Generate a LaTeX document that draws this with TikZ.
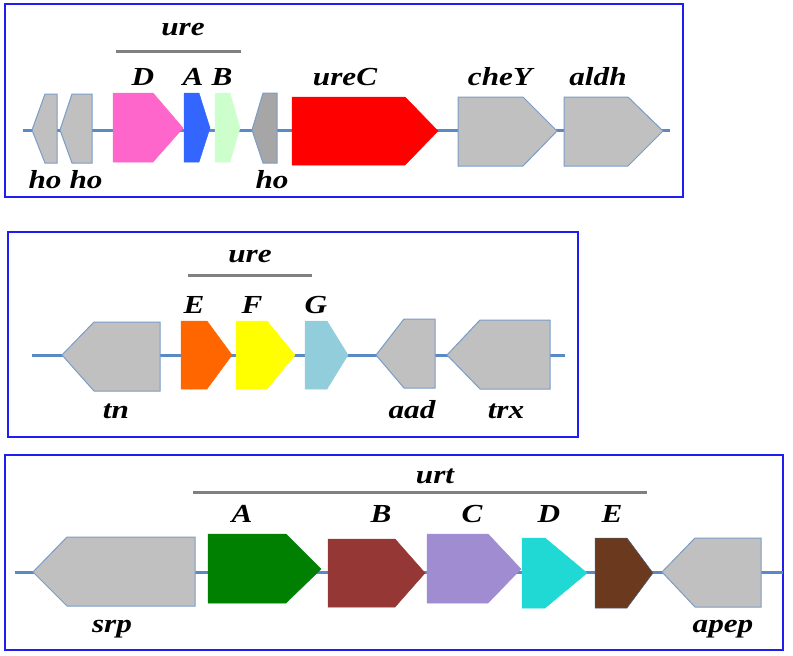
\documentclass[tikz,border=0pt]{standalone}
\usepackage{fontspec}
\setmainfont{Liberation Serif}
\usepackage{tikz}
\usetikzlibrary{positioning}

\definecolor{frameblue}{HTML}{1E1EF0}
\definecolor{dnaline}{HTML}{5A8AC6}
\definecolor{geneedge}{HTML}{7A9CC8}
\definecolor{genegray}{HTML}{C0C0C0}
\definecolor{darkgray}{HTML}{A6A6A6}
\definecolor{urepink}{HTML}{FF66CC}
\definecolor{ureblue}{HTML}{3366FF}
\definecolor{uregreen}{HTML}{CCFFCC}
\definecolor{ureorange}{HTML}{FF6600}
\definecolor{ureyellow}{HTML}{FFFF00}
\definecolor{urecyan}{HTML}{92CDDC}
\definecolor{urtgreen}{HTML}{008000}
\definecolor{urtred}{HTML}{953735}
\definecolor{urtlilac}{HTML}{A08CD0}
\definecolor{urtcyan}{HTML}{20D8D4}
\definecolor{urtbrown}{HTML}{6B3A1E}

\begin{document}
\begin{tikzpicture}[x=1pt, y=-1pt,
    panel/.style={draw=frameblue, line width=2.5pt},
    dna/.style={draw=dnaline, line width=3pt},
    gray gene/.style={fill=genegray, draw=geneedge, line width=1pt},
    gene/.style={fill=#1, draw=#1, line width=0.5pt},
    operon/.style={draw=gray, line width=3pt},
    lbl/.style={font=\fontsize{26}{28}\selectfont\bfseries\itshape, xscale=1.2, anchor=base, inner sep=0pt}]
    \useasboundingbox (0,0) rectangle (793,656);

    % Panels
    \draw[panel] (5,4) rectangle (683,197);
    \draw[panel] (8,232) rectangle (578,437);
    \draw[panel] (5,455) rectangle (783,650);

    % Backbones
    \draw[dna] (23,130) -- (670,130);
    \draw[dna] (32,355) -- (565,355);
    \draw[dna] (15,572) -- (783,572);

    % Panel 1 genes
    \filldraw[gray gene] (32,130) -- (45,94) -- (57,94) -- (57,163) -- (45,163) -- cycle;
    \filldraw[gray gene] (60,130) -- (72,94) -- (92,94) -- (92,163) -- (72,163) -- cycle;
    \filldraw[gene=urepink] (113,93) -- (153,93) -- (183,128) -- (153,162) -- (113,162) -- cycle;
    \filldraw[gene=ureblue] (184,93) -- (199,93) -- (210,128) -- (199,162) -- (184,162) -- cycle;
    \filldraw[gene=uregreen] (215,93) -- (230,93) -- (240,128) -- (230,162) -- (215,162) -- cycle;
    \filldraw[gray gene, fill=darkgray] (252,130) -- (263,93) -- (277,93) -- (277,163) -- (263,163) -- cycle;
    \filldraw[gene=red] (292,97) -- (405,97) -- (438,131) -- (405,165) -- (292,165) -- cycle;
    \filldraw[gray gene] (458,97) -- (523,97) -- (557,131) -- (523,166) -- (458,166) -- cycle;
    \filldraw[gray gene] (564,97) -- (628,97) -- (663,131) -- (628,166) -- (564,166) -- cycle;

    % Panel 1 labels
    \draw[operon] (116,51) -- (241,51);
    \node[lbl] (ure1) at (183,35) {ure};
    \node[lbl] (ureD) at (143,85) {D};
    \node[lbl] (ureA) at (193,85) {A};
    \node[lbl] (ureB) at (222,85) {B};
    \node[lbl] (ureC) at (345,85) {ureC};
    \node[lbl] (cheY) at (500,85) {cheY};
    \node[lbl] (aldh) at (598,85) {aldh};
    \node[lbl] (ho1) at (45,188) {ho};
    \node[lbl] (ho2) at (86,188) {ho};
    \node[lbl] (ho3) at (272,188) {ho};

    % Panel 2 genes
    \filldraw[gray gene] (62,355) -- (94,322) -- (160,322) -- (160,391) -- (94,391) -- cycle;
    \filldraw[gene=ureorange] (181,321) -- (207,321) -- (232,355) -- (207,389) -- (181,389) -- cycle;
    \filldraw[gene=ureyellow] (236,321) -- (267,321) -- (295,355) -- (267,389) -- (236,389) -- cycle;
    \filldraw[gene=urecyan] (305,321) -- (327,321) -- (348,355) -- (327,389) -- (305,389) -- cycle;
    \filldraw[gray gene] (376,355) -- (404,319) -- (435,319) -- (435,388) -- (404,388) -- cycle;
    \filldraw[gray gene] (447,355) -- (480,320) -- (550,320) -- (550,389) -- (480,389) -- cycle;

    % Panel 2 labels
    \draw[operon] (188,275) -- (312,275);
    \node[lbl] (ure2) at (250,262) {ure};
    \node[lbl] (ureE) at (194,313) {E};
    \node[lbl] (ureF) at (252,313) {F};
    \node[lbl] (ureG) at (316,313) {G};
    \node[lbl] (tn) at (116,418) {tn};
    \node[lbl] (aad) at (412,418) {aad};
    \node[lbl] (trx) at (506,418) {trx};

    % Panel 3 genes
    \filldraw[gray gene] (33,572) -- (67,537) -- (195,537) -- (195,606) -- (67,606) -- cycle;
    \filldraw[gene=urtgreen] (208,534) -- (286,534) -- (321,569) -- (286,603) -- (208,603) -- cycle;
    \filldraw[gene=urtred] (328,539) -- (395,539) -- (425,573) -- (395,607) -- (328,607) -- cycle;
    \filldraw[gene=urtlilac] (427,534) -- (488,534) -- (521,569) -- (488,603) -- (427,603) -- cycle;
    \filldraw[gene=urtcyan] (522,538) -- (545,538) -- (587,573) -- (545,608) -- (522,608) -- cycle;
    \filldraw[gene=urtbrown, draw=geneedge!60!black] (595,538) -- (627,538) -- (653,573) -- (627,608) -- (595,608) -- cycle;
    \filldraw[gray gene] (662,572) -- (695,538) -- (761,538) -- (761,607) -- (695,607) -- cycle;

    % Panel 3 labels
    \draw[operon] (193,492) -- (647,492);
    \node[lbl] (urt) at (435,483) {urt};
    \node[lbl] (urtA) at (242,522) {A};
    \node[lbl] (urtB) at (381,522) {B};
    \node[lbl] (urtC) at (472,522) {C};
    \node[lbl] (urtD) at (549,522) {D};
    \node[lbl] (urtE) at (612,522) {E};
    \node[lbl] (srp) at (112,632) {srp};
    \node[lbl] (apep) at (723,632) {apep};
\end{tikzpicture}
\end{document}
